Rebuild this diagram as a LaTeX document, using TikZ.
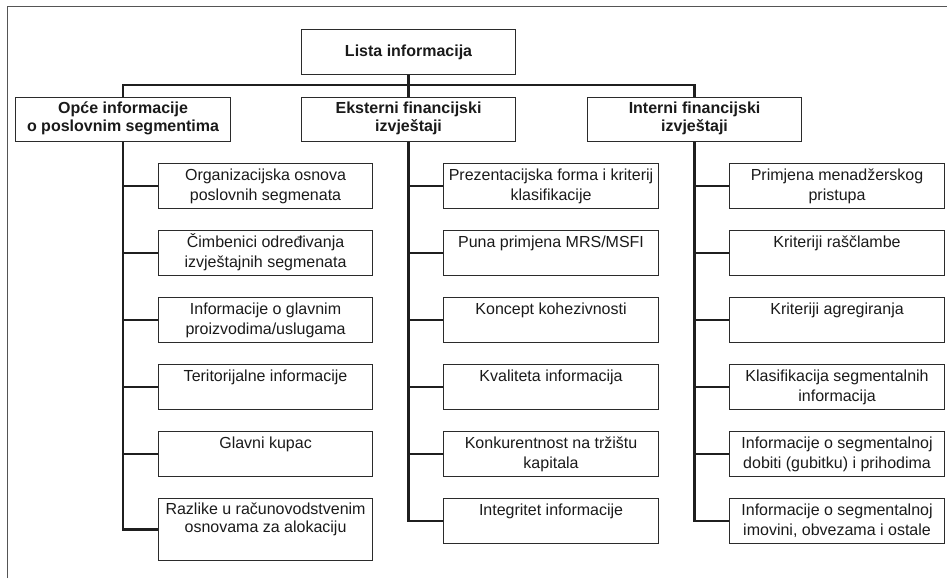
\documentclass[tikz,border=0pt]{standalone}
\usepackage{fontspec}
\setmainfont{Liberation Sans}
\definecolor{boxc}{HTML}{2B2B2B}
\definecolor{framec}{HTML}{555555}
\definecolor{txtc}{HTML}{1A1A1A}
\newcommand{\celltext}[5]{\parbox[c][#2][t]{#1}{\vspace*{#4}\centering\fontsize{16}{#3}\selectfont\strut #5}}
\tikzset{
  cbox/.style={draw=boxc, line width=1.1pt, inner sep=0pt, anchor=north west, text=txtc},
  conn/.style={draw=black!88, line width=2.2pt},
}
\begin{document}
\begin{tikzpicture}[x=1pt,y=-1pt]
\useasboundingbox (0,0) rectangle (947,578);
\draw[framec, line width=1.8pt] (7.5,578) -- (7.5,6.5) -- (947,6.5);

% top
\node[cbox] (top) at (301,29) {\parbox[c][45pt][c]{214pt}{\centering\fontsize{16}{18}\selectfont\bfseries Lista informacija}};

% level 1
\node[cbox] (l1a) at (15,97) {\celltext{215pt}{44pt}{18}{3.7pt}{\bfseries Opće informacije\\o poslovnim segmentima}};
\node[cbox] (l1b) at (301,97) {\celltext{214pt}{44pt}{18}{3.7pt}{\bfseries Eksterni financijski\\izvještaji}};
\node[cbox] (l1c) at (587,97) {\celltext{214pt}{44pt}{18}{3.7pt}{\bfseries Interni financijski\\izvještaji}};

% column A
\node[cbox] (a1) at (158,163) {\celltext{214pt}{45pt}{20}{2.5pt}{Organizacijska osnova\\poslovnih segmenata}};
\node[cbox] (a2) at (158,230) {\celltext{214pt}{45pt}{20}{2.5pt}{Čimbenici određivanja\\izvještajnih segmenata}};
\node[cbox] (a3) at (158,297) {\celltext{214pt}{45pt}{20}{2.5pt}{Informacije o glavnim\\proizvodima/uslugama}};
\node[cbox] (a4) at (158,364) {\celltext{214pt}{45pt}{20}{2.5pt}{Teritorijalne informacije}};
\node[cbox] (a5) at (158,431) {\celltext{214pt}{45pt}{20}{2.5pt}{Glavni kupac}};
\node[cbox] (a6) at (158,498) {\celltext{214pt}{62pt}{18.5}{2.5pt}{Razlike u računovodstvenim\\osnovama za alokaciju}};

% column B
\node[cbox] (b1) at (443,163) {\celltext{215pt}{45pt}{20}{2.5pt}{Prezentacijska forma i kriterij\\klasifikacije}};
\node[cbox] (b2) at (443,230) {\celltext{215pt}{45pt}{20}{2.5pt}{Puna primjena MRS/MSFI}};
\node[cbox] (b3) at (443,297) {\celltext{215pt}{45pt}{20}{2.5pt}{Koncept kohezivnosti}};
\node[cbox] (b4) at (443,364) {\celltext{215pt}{45pt}{20}{2.5pt}{Kvaliteta informacija}};
\node[cbox] (b5) at (443,431) {\celltext{215pt}{45pt}{20}{2.5pt}{Konkurentnost na tržištu\\kapitala}};
\node[cbox] (b6) at (443,498) {\celltext{215pt}{45pt}{20}{2.5pt}{Integritet informacije}};

% column C
\node[cbox] (c1) at (729,163) {\celltext{215pt}{45pt}{20}{2.5pt}{Primjena menadžerskog\\pristupa}};
\node[cbox] (c2) at (729,230) {\celltext{215pt}{45pt}{20}{2.5pt}{Kriteriji raščlambe}};
\node[cbox] (c3) at (729,297) {\celltext{215pt}{45pt}{20}{2.5pt}{Kriteriji agregiranja}};
\node[cbox] (c4) at (729,364) {\celltext{215pt}{45pt}{20}{2.5pt}{Klasifikacija segmentalnih\\informacija}};
\node[cbox] (c5) at (729,431) {\celltext{215pt}{45pt}{20}{2.5pt}{Informacije o segmentalnoj\\dobiti (gubitku) i prihodima}};
\node[cbox] (c6) at (729,498) {\celltext{215pt}{45pt}{20}{2.5pt}{Informacije o segmentalnoj\\imovini, obvezama i ostale}};

% bus
\draw[conn] (top.south) -- (l1b.north);
\draw[conn] (l1a.north) -- ++(0,-12) -| (l1c.north);

% trunks
\draw[conn] (l1a.south) |- (a6.west);
\draw[conn] (l1b.south) |- (b6.west);
\draw[conn] (l1c.south) |- (c6.west);
\foreach \i in {1,...,5}{
  \draw[conn] (a\i.west) -- (a\i.west -| l1a.south);
  \draw[conn] (b\i.west) -- (b\i.west -| l1b.south);
  \draw[conn] (c\i.west) -- (c\i.west -| l1c.south);
}
\end{tikzpicture}
\end{document}
